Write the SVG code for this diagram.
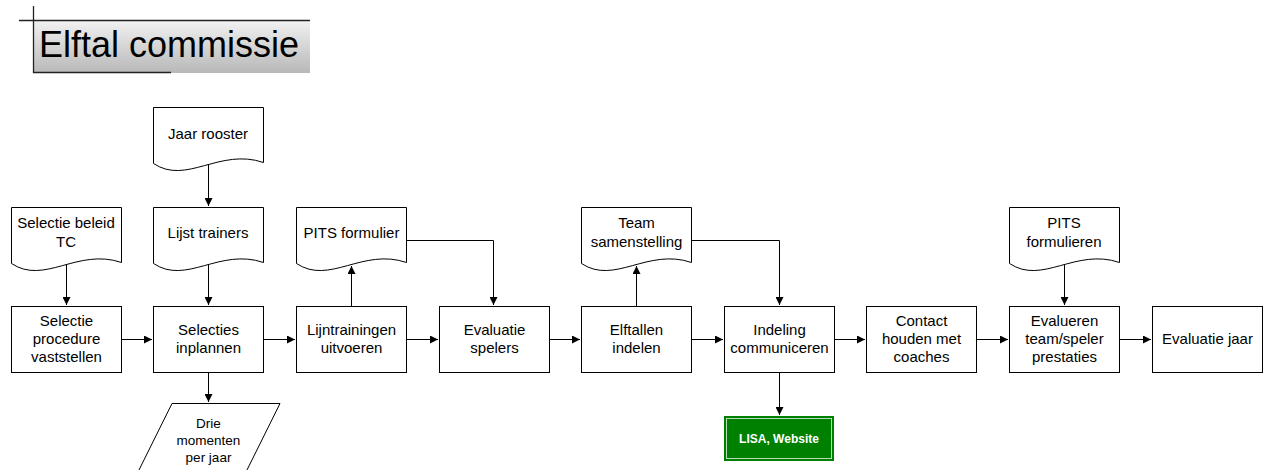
<svg xmlns="http://www.w3.org/2000/svg" width="1266" height="470" viewBox="0 0 1266 470">
<style>
.box{fill:#fff;stroke:#000;stroke-width:1}
.doc{fill:#fff;stroke:#000;stroke-width:1}
.t{font-family:"Liberation Sans",Arial,sans-serif;font-size:15px;fill:#000;text-anchor:middle}
.ts{font-family:"Liberation Sans",Arial,sans-serif;font-size:13.5px;fill:#000;text-anchor:middle}
.c{fill:none;stroke:#000;stroke-width:1}
</style>
<defs>
<linearGradient id="tg" x1="0" y1="0" x2="0" y2="1">
<stop offset="0" stop-color="#f2f2f2"/>
<stop offset="1" stop-color="#b8b8b8"/>
</linearGradient>
<marker id="ah" markerUnits="userSpaceOnUse" markerWidth="8" markerHeight="8" refX="8" refY="4" orient="auto">
<path d="M0,0 L8,4 L0,8 z" fill="#000"/>
</marker>
</defs>
<g id="title">
<rect x="33" y="20" width="277" height="53" fill="url(#tg)"/>
<line x1="19" y1="20.5" x2="310" y2="20.5" stroke="#222" stroke-width="1.3"/>
<line x1="33.5" y1="6" x2="33.5" y2="73" stroke="#222" stroke-width="1.3"/>
<line x1="33" y1="72.5" x2="171" y2="72.5" stroke="#222" stroke-width="1.3"/>
<text x="39" y="57" font-family="'Liberation Sans',Arial,sans-serif" font-size="36" fill="#000">Elftal commissie</text>
</g>
<g id="connectors">
<path class="c" d="M208.5,165 V206" marker-end="url(#ah)"/>
<path class="c" d="M66.5,265 V305" marker-end="url(#ah)"/>
<path class="c" d="M208.5,265 V305" marker-end="url(#ah)"/>
<path class="c" d="M351.5,306 V266" marker-end="url(#ah)"/>
<path class="c" d="M406,240.5 H493.5 V305" marker-end="url(#ah)"/>
<path class="c" d="M636.5,306 V266" marker-end="url(#ah)"/>
<path class="c" d="M691,240.5 H779.5 V305" marker-end="url(#ah)"/>
<path class="c" d="M1064.5,265 V305" marker-end="url(#ah)"/>
<path class="c" d="M208.5,372 V402" marker-end="url(#ah)"/>
<path class="c" d="M779.5,372 V415" marker-end="url(#ah)"/>
<path class="c" d="M121,339.5 H152" marker-end="url(#ah)"/>
<path class="c" d="M263,339.5 H295" marker-end="url(#ah)"/>
<path class="c" d="M406,339.5 H438" marker-end="url(#ah)"/>
<path class="c" d="M549,339.5 H580" marker-end="url(#ah)"/>
<path class="c" d="M691,339.5 H723" marker-end="url(#ah)"/>
<path class="c" d="M834,339.5 H865" marker-end="url(#ah)"/>
<path class="c" d="M976,339.5 H1008" marker-end="url(#ah)"/>
<path class="c" d="M1119,339.5 H1151" marker-end="url(#ah)"/>
</g>
<g id="doc-jaar-rooster">
<path class="doc" d="M153.5,107.5 H263.5 V162.5 C219.5,147.5 186.5,185.5 153.5,163.5 Z"/>
<text class="t" x="208" y="138.5">Jaar rooster</text>
</g>
<g id="doc-selectie-beleid">
<path class="doc" d="M11.5,207.5 H121.5 V262.5 C77.5,247.5 44.5,285.5 11.5,263.5 Z"/>
<text class="t" x="66" y="227.5">Selectie beleid</text>
<text class="t" x="66" y="247">TC</text>
</g>
<g id="doc-lijst-trainers">
<path class="doc" d="M153.5,207.5 H263.5 V262.5 C219.5,247.5 186.5,285.5 153.5,263.5 Z"/>
<text class="t" x="208" y="238">Lijst trainers</text>
</g>
<g id="doc-pits-formulier">
<path class="doc" d="M296.5,207.5 H406.5 V262.5 C362.5,247.5 329.5,285.5 296.5,263.5 Z"/>
<text class="t" x="351.5" y="238">PITS formulier</text>
</g>
<g id="doc-team-samenstelling">
<path class="doc" d="M581.5,207.5 H691.5 V262.5 C647.5,247.5 614.5,285.5 581.5,263.5 Z"/>
<text class="t" x="636.5" y="227.5">Team</text>
<text class="t" x="636.5" y="247">samenstelling</text>
</g>
<g id="doc-pits-formulieren">
<path class="doc" d="M1009.5,207.5 H1119.5 V262.5 C1075.5,247.5 1042.5,285.5 1009.5,263.5 Z"/>
<text class="t" x="1064" y="227.5">PITS</text>
<text class="t" x="1064" y="247">formulieren</text>
</g>
<g id="p1">
<rect class="box" x="11.5" y="306.5" width="110" height="66"/>
<text class="t" x="66.5" y="326">Selectie</text>
<text class="t" x="66.5" y="344">procedure</text>
<text class="t" x="66.5" y="362">vaststellen</text>
</g>
<g id="p2">
<rect class="box" x="153.5" y="306.5" width="110" height="66"/>
<text class="t" x="208.5" y="335">Selecties</text>
<text class="t" x="208.5" y="353">inplannen</text>
</g>
<g id="p3">
<rect class="box" x="296.5" y="306.5" width="110" height="66"/>
<text class="t" x="351.5" y="335">Lijntrainingen</text>
<text class="t" x="351.5" y="353">uitvoeren</text>
</g>
<g id="p4">
<rect class="box" x="439.5" y="306.5" width="110" height="66"/>
<text class="t" x="494.5" y="335">Evaluatie</text>
<text class="t" x="494.5" y="353">spelers</text>
</g>
<g id="p5">
<rect class="box" x="581.5" y="306.5" width="110" height="66"/>
<text class="t" x="636.5" y="335">Elftallen</text>
<text class="t" x="636.5" y="353">indelen</text>
</g>
<g id="p6">
<rect class="box" x="724.5" y="306.5" width="110" height="66"/>
<text class="t" x="779.5" y="335">Indeling</text>
<text class="t" x="779.5" y="353">communiceren</text>
</g>
<g id="p7">
<rect class="box" x="866.5" y="306.5" width="110" height="66"/>
<text class="t" x="921.5" y="326">Contact</text>
<text class="t" x="921.5" y="344">houden met</text>
<text class="t" x="921.5" y="362">coaches</text>
</g>
<g id="p8">
<rect class="box" x="1009.5" y="306.5" width="110" height="66"/>
<text class="t" x="1064.5" y="326">Evalueren</text>
<text class="t" x="1064.5" y="344">team/speler</text>
<text class="t" x="1064.5" y="362">prestaties</text>
</g>
<g id="p9">
<rect class="box" x="1152.5" y="306.5" width="110" height="66"/>
<text class="t" x="1207.5" y="344">Evaluatie jaar</text>
</g>
<g id="io-drie-momenten">
<path class="doc" d="M172,403.5 H280 L246,472 H138 Z"/>
<text class="ts" x="208.5" y="428">Drie</text>
<text class="ts" x="208.5" y="445">momenten</text>
<text class="ts" x="208.5" y="462">per jaar</text>
</g>
<g id="lisa-website">
<rect x="724" y="416" width="110" height="45" fill="#008000"/>
<rect x="726.5" y="418.5" width="105" height="40" fill="none" stroke="#b8dcb8" stroke-width="1"/>
<text x="779" y="442.5" font-family="'Liberation Sans',Arial,sans-serif" font-size="12" font-weight="bold" fill="#fff" text-anchor="middle">LISA, Website</text>
</g>
</svg>
